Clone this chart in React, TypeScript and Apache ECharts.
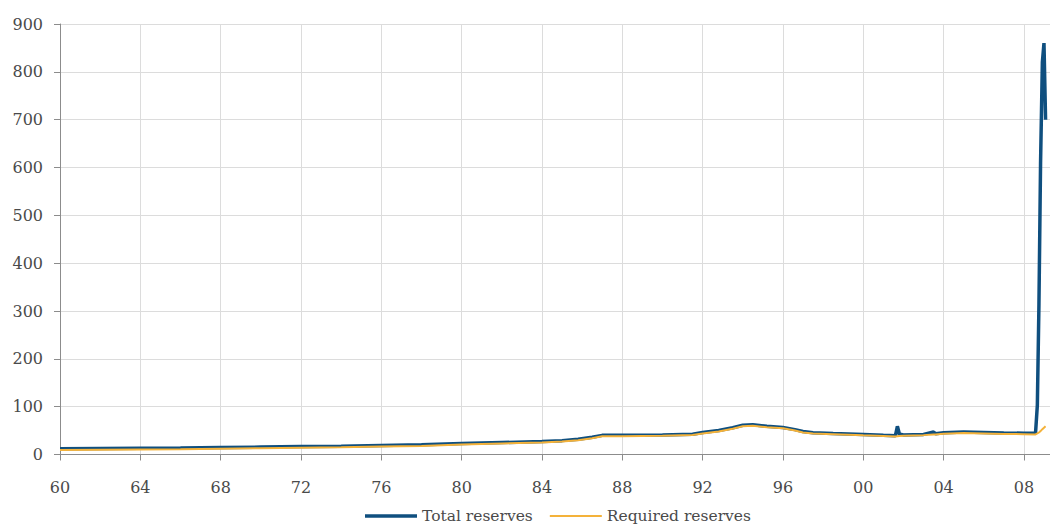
import React, { useEffect, useRef } from "react";
import * as echarts from "echarts";

// Decimal years of the observations
const dates: number[] = [
  1960.0, 1962.0, 1964.0, 1966.0, 1968.0, 1970.0, 1972.0, 1974.0, 1976.0, 1978.0,
  1980.0, 1982.0, 1984.0, 1985.0, 1985.8, 1986.5, 1987.0, 1988.0, 1990.0, 1991.5,
  1992.0, 1992.8, 1993.5, 1994.0, 1994.5, 1995.2, 1996.0, 1996.6, 1997.0, 1997.5,
  1998.5, 2000.0, 2001.0, 2001.6, 2001.7, 2001.8, 2002.0, 2003.0, 2003.5, 2003.6,
  2004.0, 2005.0, 2006.0, 2007.0, 2008.0, 2008.58, 2008.67, 2008.75, 2008.83, 2008.92,
  2009.0, 2009.08,
];

const totalReserves: number[] = [
  12, 12.5, 13, 13.5, 14.5, 15.5, 16.5, 17.5, 19, 20.5,
  23, 25, 27, 29, 32, 36, 40, 40, 41, 42.5,
  46, 50, 56, 61, 62, 59, 56.5, 52, 48, 45.5,
  44, 42, 40, 39, 59, 43, 41, 42, 47, 43.5,
  45.5, 47, 46, 45, 44.5, 45, 103, 315, 610, 820,
  860, 700,
];

const requiredReserves: number[] = [
  9.5, 10, 10.5, 11, 12, 13, 14, 15, 16.5, 18,
  21, 23, 25, 27, 30, 34, 38, 38, 39, 41,
  44, 48, 54, 59, 60, 57, 55, 50, 46, 44,
  42.5, 40, 38.5, 37.5, 38, 38.5, 39, 40.5, 42, 42,
  43.5, 45, 44, 43, 42.5, 42, 44, 46, 49, 53,
  56, 59,
];

const seriesNames = ["Total reserves", "Required reserves"];

const FONT = "DejaVu Serif";
const BLUE = "#0f4f7f";
const ORANGE = "#f4b23a";
const TEXT = "#4a4a4a";

export default function App() {
  const ref = useRef<HTMLDivElement>(null);

  useEffect(() => {
    if (!ref.current) return;
    const chart = echarts.init(ref.current, undefined, { renderer: "svg" });
    const pair = (vals: number[]) => dates.map((d, i) => [d, vals[i]]);
    chart.setOption({
      animation: false,
      textStyle: { fontFamily: FONT },
      grid: { left: 60, right: 0, top: 24, bottom: 71.5, containLabel: false },
      legend: {
        left: 365,
        top: 508,
        padding: 0,
        itemWidth: 52,
        itemHeight: 14,
        itemGap: 17,
        textStyle: { fontFamily: FONT, fontSize: 15.5, color: TEXT },
        data: [
          {
            name: seriesNames[0],
            icon: "path://M0,0 L52,0 L52,3.5 L0,3.5 Z",
            itemStyle: { color: BLUE },
          },
          {
            name: seriesNames[1],
            icon: "path://M0,0 L52,0 L52,2 L0,2 Z",
            itemStyle: { color: ORANGE },
          },
        ],
      },
      xAxis: {
        type: "value",
        min: 1960,
        max: 2009.3,
        interval: 4,
        axisLine: { show: true, lineStyle: { color: "#8c8c8c", width: 1 } },
        axisTick: { show: true, length: 6, lineStyle: { color: "#8c8c8c" } },
        axisLabel: {
          margin: 25,
          fontFamily: FONT,
          fontSize: 16,
          color: TEXT,
          showMaxLabel: false,
          formatter: (v: number) => {
            const r = Math.round(v);
            if (Math.abs(v - r) > 1e-6 || r % 4 !== 0) return "";
            return String(r % 100).padStart(2, "0");
          },
        },
        splitLine: { show: true, lineStyle: { color: "#dcdcdc", width: 1 } },
      },
      yAxis: {
        type: "value",
        min: 0,
        max: 900,
        interval: 100,
        axisLine: { show: true, lineStyle: { color: "#8c8c8c", width: 1 } },
        axisTick: { show: true, length: 6, lineStyle: { color: "#8c8c8c" } },
        axisLabel: { margin: 17, fontFamily: FONT, fontSize: 16, color: TEXT },
        splitLine: { show: true, lineStyle: { color: "#dcdcdc", width: 1 } },
      },
      series: [
        {
          name: seriesNames[0],
          type: "line",
          symbol: "none",
          showSymbol: false,
          data: pair(totalReserves),
          lineStyle: { color: BLUE, width: 3.5 },
          itemStyle: { color: BLUE },
        },
        {
          name: seriesNames[1],
          type: "line",
          symbol: "none",
          showSymbol: false,
          data: pair(requiredReserves),
          lineStyle: { color: ORANGE, width: 2 },
          itemStyle: { color: ORANGE },
        },
      ],
    });
    return () => chart.dispose();
  }, []);

  return (
    <div
      ref={ref}
      style={{ position: "absolute", left: 0, top: 0, width: 1050, height: 526 }}
    />
  );
}
